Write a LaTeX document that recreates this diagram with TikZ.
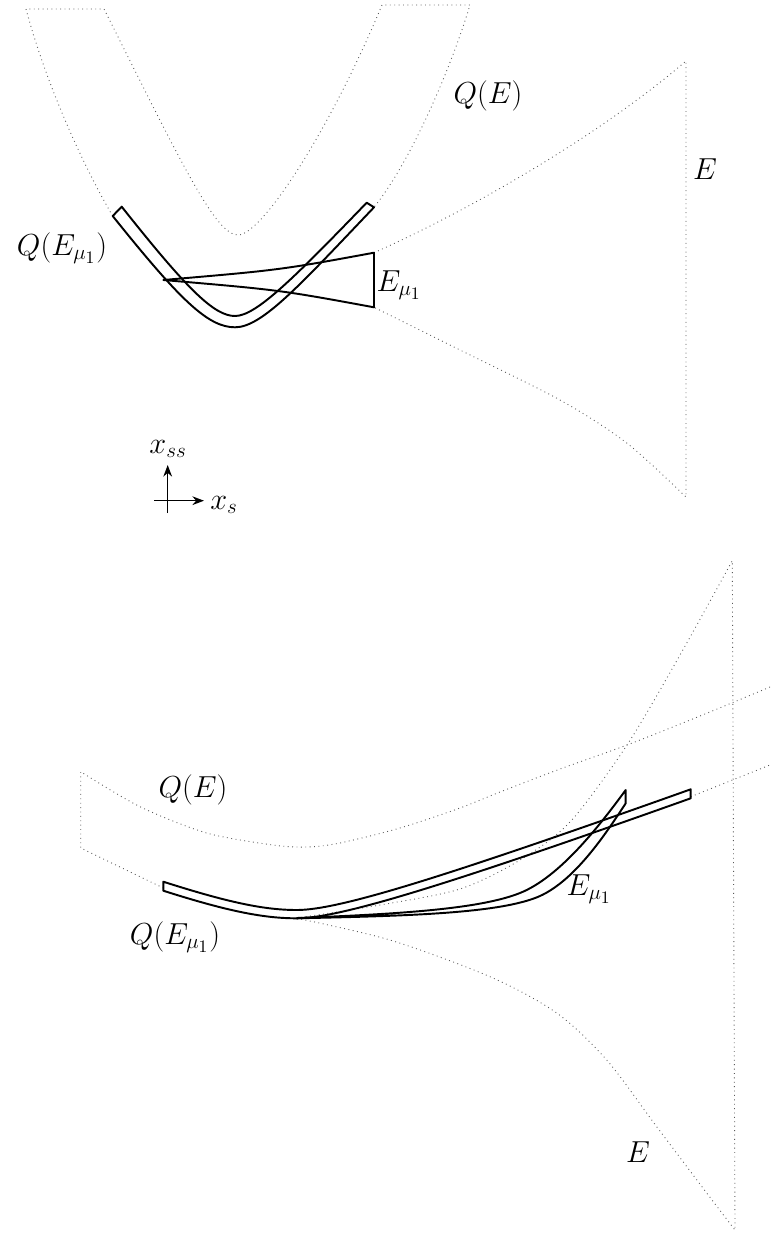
\documentclass[tikz,border=0pt]{standalone}
\usepackage{amsmath,amssymb}
\usepackage{xcolor}
\usepackage{tikz}
\usetikzlibrary{arrows.meta}

\tikzset{
    region/.style={dotted, black!65, line width=0.5pt},
    band/.style={line width=1.1pt, line join=round},
    lbl/.style={font=\LARGE, inner sep=0pt}
}

\begin{document}
\begin{tikzpicture}[x=0.2mm, y=-0.2mm, >=Stealth]
    \useasboundingbox (0,0) rectangle (770,1237);

    % Top: Q(E)
    \draw[region] (112.7,216) .. controls (80,160) and (45,80) .. (26,9) -- (104,9)
        .. controls (180,160) and (215,235) .. (238,235)
        .. controls (262,235) and (330,130) .. (382,5)
        -- (470,5) .. controls (452,65) and (412,160) .. (374,207.3);

    % Top: E
    \draw[region] (374,252.7) .. controls (470,210) and (600,135) .. (686,61) -- (686,497)
        -- plot[smooth] coordinates {(686,497) (626.7,443) (560,400) (460,350) (374,307.3)};

    % Top: Q(E_mu1) and E_mu1
    \draw[band] (112.7,216) .. controls (180,300) and (208,327.3) .. (235,327.3)
        .. controls (262,327.3) and (300,285) .. (374,207.3) -- (366.7,202.7)
        .. controls (293,279) and (256,316) .. (235,316)
        .. controls (214,316) and (187,289) .. (121.7,206.7) -- cycle;
    \draw[band] (163.3,280) .. controls (280,270) .. (374,252.7) -- (374,307.3) .. controls (280,290) .. (163.3,280) -- cycle;

    % Axes
    \draw[->, thick] (167.7,513) -- (167.7,465);
    \draw[->, thick] (154,500.7) -- (204,500.7);

    \node[lbl] (qe1) at (488,96) {$Q(E)$};
    \node[lbl] (e1) at (705,169) {$E$};
    \node[lbl] (qem1) at (62,248) {$Q(E_{\mu_1})$};
    \node[lbl] (em1) at (399,285) {$E_{\mu_1}$};
    \node[lbl] (xss) at (168,449) {$x_{ss}$};
    \node[lbl] (xs) at (224,505) {$x_s$};

    % Bottom: Q(E)
    \draw[region] plot[smooth] coordinates {(770,687) (700,716) (627,745) (560,769) (500,792) (460,808) (400,828) (340,843) (307,847) (273,845) (206.7,833) (140,806.7) (80.7,771.7)}
        -- (80.7,848) -- (163.3,888);
    \draw[region] (690.7,796.7) -- (770,765);

    % Bottom: E
    \draw[region] plot[smooth] coordinates {(297,918) (380,905) (460,889) (520,860) (570,822) (627,745) (680,655) (732.3,560.7)}
        -- (735,1230) -- plot[smooth] coordinates {(735,1230) (706.7,1193) (656.7,1126.7) (606.7,1060) (556.7,1013) (490,976.7) (390,940) (297,918.3)};

    % Bottom: Q(E_mu1) and E_mu1
    \draw[band] (163.3,881.7) .. controls (230,903) and (265,910) .. (297,910)
        .. controls (340,910) and (450,875) .. (690.7,789.3) -- (690.7,798.3)
        .. controls (450,884) and (340,918.3) .. (296.7,918.3)
        .. controls (265,918.3) and (230,912) .. (163.3,890.7) -- cycle;
    \draw[band] (297,918) .. controls (400,914) and (480,909) .. (520,893)
        .. controls (560,877) and (600,825) .. (625.7,790) -- (625.7,803.3)
        .. controls (605,835) and (575,880) .. (540,896)
        .. controls (500,914) and (400,916) .. (297,918.3) -- cycle;

    \node[lbl] (qe2) at (193,790) {$Q(E)$};
    \node[lbl] (qem2) at (175,937) {$Q(E_{\mu_1})$};
    \node[lbl] (em2) at (589,889) {$E_{\mu_1}$};
    \node[lbl] (e2) at (638,1152) {$E$};
\end{tikzpicture}
\end{document}
